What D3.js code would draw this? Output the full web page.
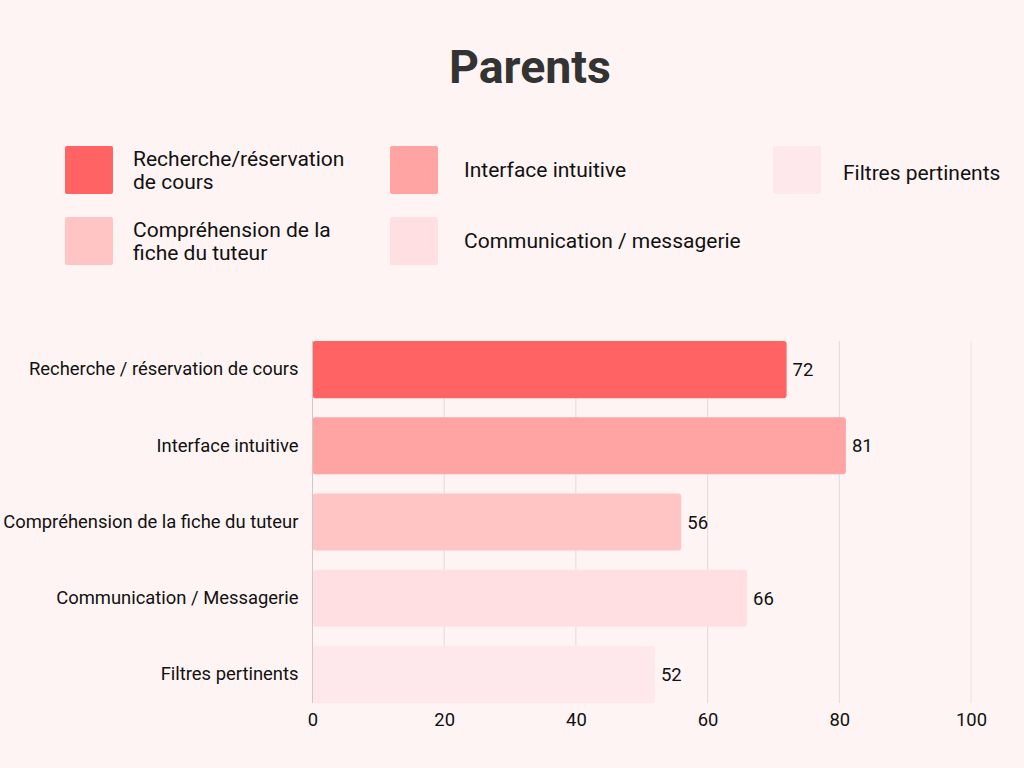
<html>
<head>
<meta charset="utf-8">
<script src="https://d3js.org/d3.v7.min.js"></script>
<style>
  body { margin: 0; background: #fff4f4; }
  svg { font-family: Roboto, sans-serif; }
</style>
</head>
<body>
<svg id="chart" width="1024" height="768"></svg>
<script>
// data
const categories = ["Recherche / réservation de cours", "Interface intuitive",
  "Compréhension de la fiche du tuteur", "Communication / Messagerie", "Filtres pertinents"];
const values = [72, 81, 56, 66, 52];
const colors = ["#ff6363", "#ffa3a3", "#ffc4c4", "#ffdfe1", "#ffe8eb"];
const legendLabels = [["Recherche/réservation", "de cours"], ["Interface intuitive"],
  ["Compréhension de la", "fiche du tuteur"], ["Communication / messagerie"], ["Filtres pertinents"]];
const xTicks = [0, 20, 40, 60, 80, 100];

const svg = d3.select("#chart");

svg.append("rect").attr("width", 1024).attr("height", 768).attr("fill", "#fff4f4");

// title
svg.append("text")
  .attr("x", 530).attr("y", 83)
  .attr("text-anchor", "middle")
  .attr("font-size", 46.5).attr("font-weight", "bold")
  .attr("fill", "#333")
  .text("Parents");

// legend (row 1: items 0,1,4 ; row 2: items 2,3)
const legendSlots = [[0, 0], [1, 0], [0, 1], [1, 1], [2, 0]];
const colX = [65, 390, 773];
const colTextX = [68, 74, 70];
const rowY = [146, 217];

const leg = svg.append("g").selectAll("g")
  .data(legendLabels)
  .join("g")
  .attr("transform", (d, i) => "translate(" + colX[legendSlots[i][0]] + "," + rowY[legendSlots[i][1]] + ")");

leg.append("rect")
  .attr("width", 48).attr("height", 48).attr("rx", 2)
  .attr("fill", (d, i) => colors[i]);

leg.append("text")
  .attr("font-size", 21)
  .attr("fill", "#111")
  .each(function(d, i) {
    const t = d3.select(this);
    const tx = colTextX[legendSlots[i][0]];
    const y0 = 24 - (d.length - 1) * 11.5 + 7 + (legendSlots[i][0] === 2 ? 3 : 0);
    d.forEach((line, k) => {
      t.append("tspan").attr("x", tx).attr("y", y0 + k * 23).text(line);
    });
  });

// chart
const x = d3.scaleLinear().domain([0, 100]).range([312.5, 971]);
const y = d3.scaleBand().domain(categories).range([341, 703]).paddingInner(0.25).paddingOuter(0);

// grid
svg.append("g").selectAll("line")
  .data(xTicks.slice(1))
  .join("line")
  .attr("x1", d => x(d)).attr("x2", d => x(d))
  .attr("y1", 341).attr("y2", 703)
  .attr("stroke", (d) => d === 100 ? "#eee2e2" : "#e2dada")
  .attr("stroke-width", 1);

// bars
svg.append("g").selectAll("rect")
  .data(values)
  .join("rect")
  .attr("x", x(0))
  .attr("y", (d, i) => y(categories[i]))
  .attr("width", d => x(d) - x(0))
  .attr("height", y.bandwidth())
  .attr("rx", 3)
  .attr("fill", (d, i) => colors[i]);

// baseline
svg.append("line")
  .attr("x1", x(0)).attr("x2", x(0))
  .attr("y1", 341).attr("y2", 703)
  .attr("stroke", "#cfc8c8");

// value labels
svg.append("g").selectAll("text")
  .data(values)
  .join("text")
  .attr("x", d => x(d) + 6)
  .attr("y", (d, i) => y(categories[i]) + y.bandwidth() / 2 + 6.5)
  .attr("font-size", 18.5)
  .attr("fill", "#111")
  .text(d => d);

// y axis labels
const yAxis = d3.axisLeft(y).tickSize(0).tickPadding(14);
svg.append("g")
  .attr("transform", "translate(" + x(0) + ",0)")
  .call(yAxis)
  .call(g => g.select(".domain").remove())
  .selectAll("text")
  .attr("font-size", 18.4)
  .attr("font-family", "Roboto, sans-serif")
  .attr("fill", "#111");

// x axis
const xAxis = d3.axisBottom(x).tickValues(xTicks).tickSize(0).tickPadding(10);
svg.append("g")
  .attr("transform", "translate(0,703)")
  .call(xAxis)
  .call(g => g.select(".domain").remove())
  .selectAll("text")
  .attr("font-size", 18.4)
  .attr("font-family", "Roboto, sans-serif")
  .attr("fill", "#111");
</script>
</body>
</html>
